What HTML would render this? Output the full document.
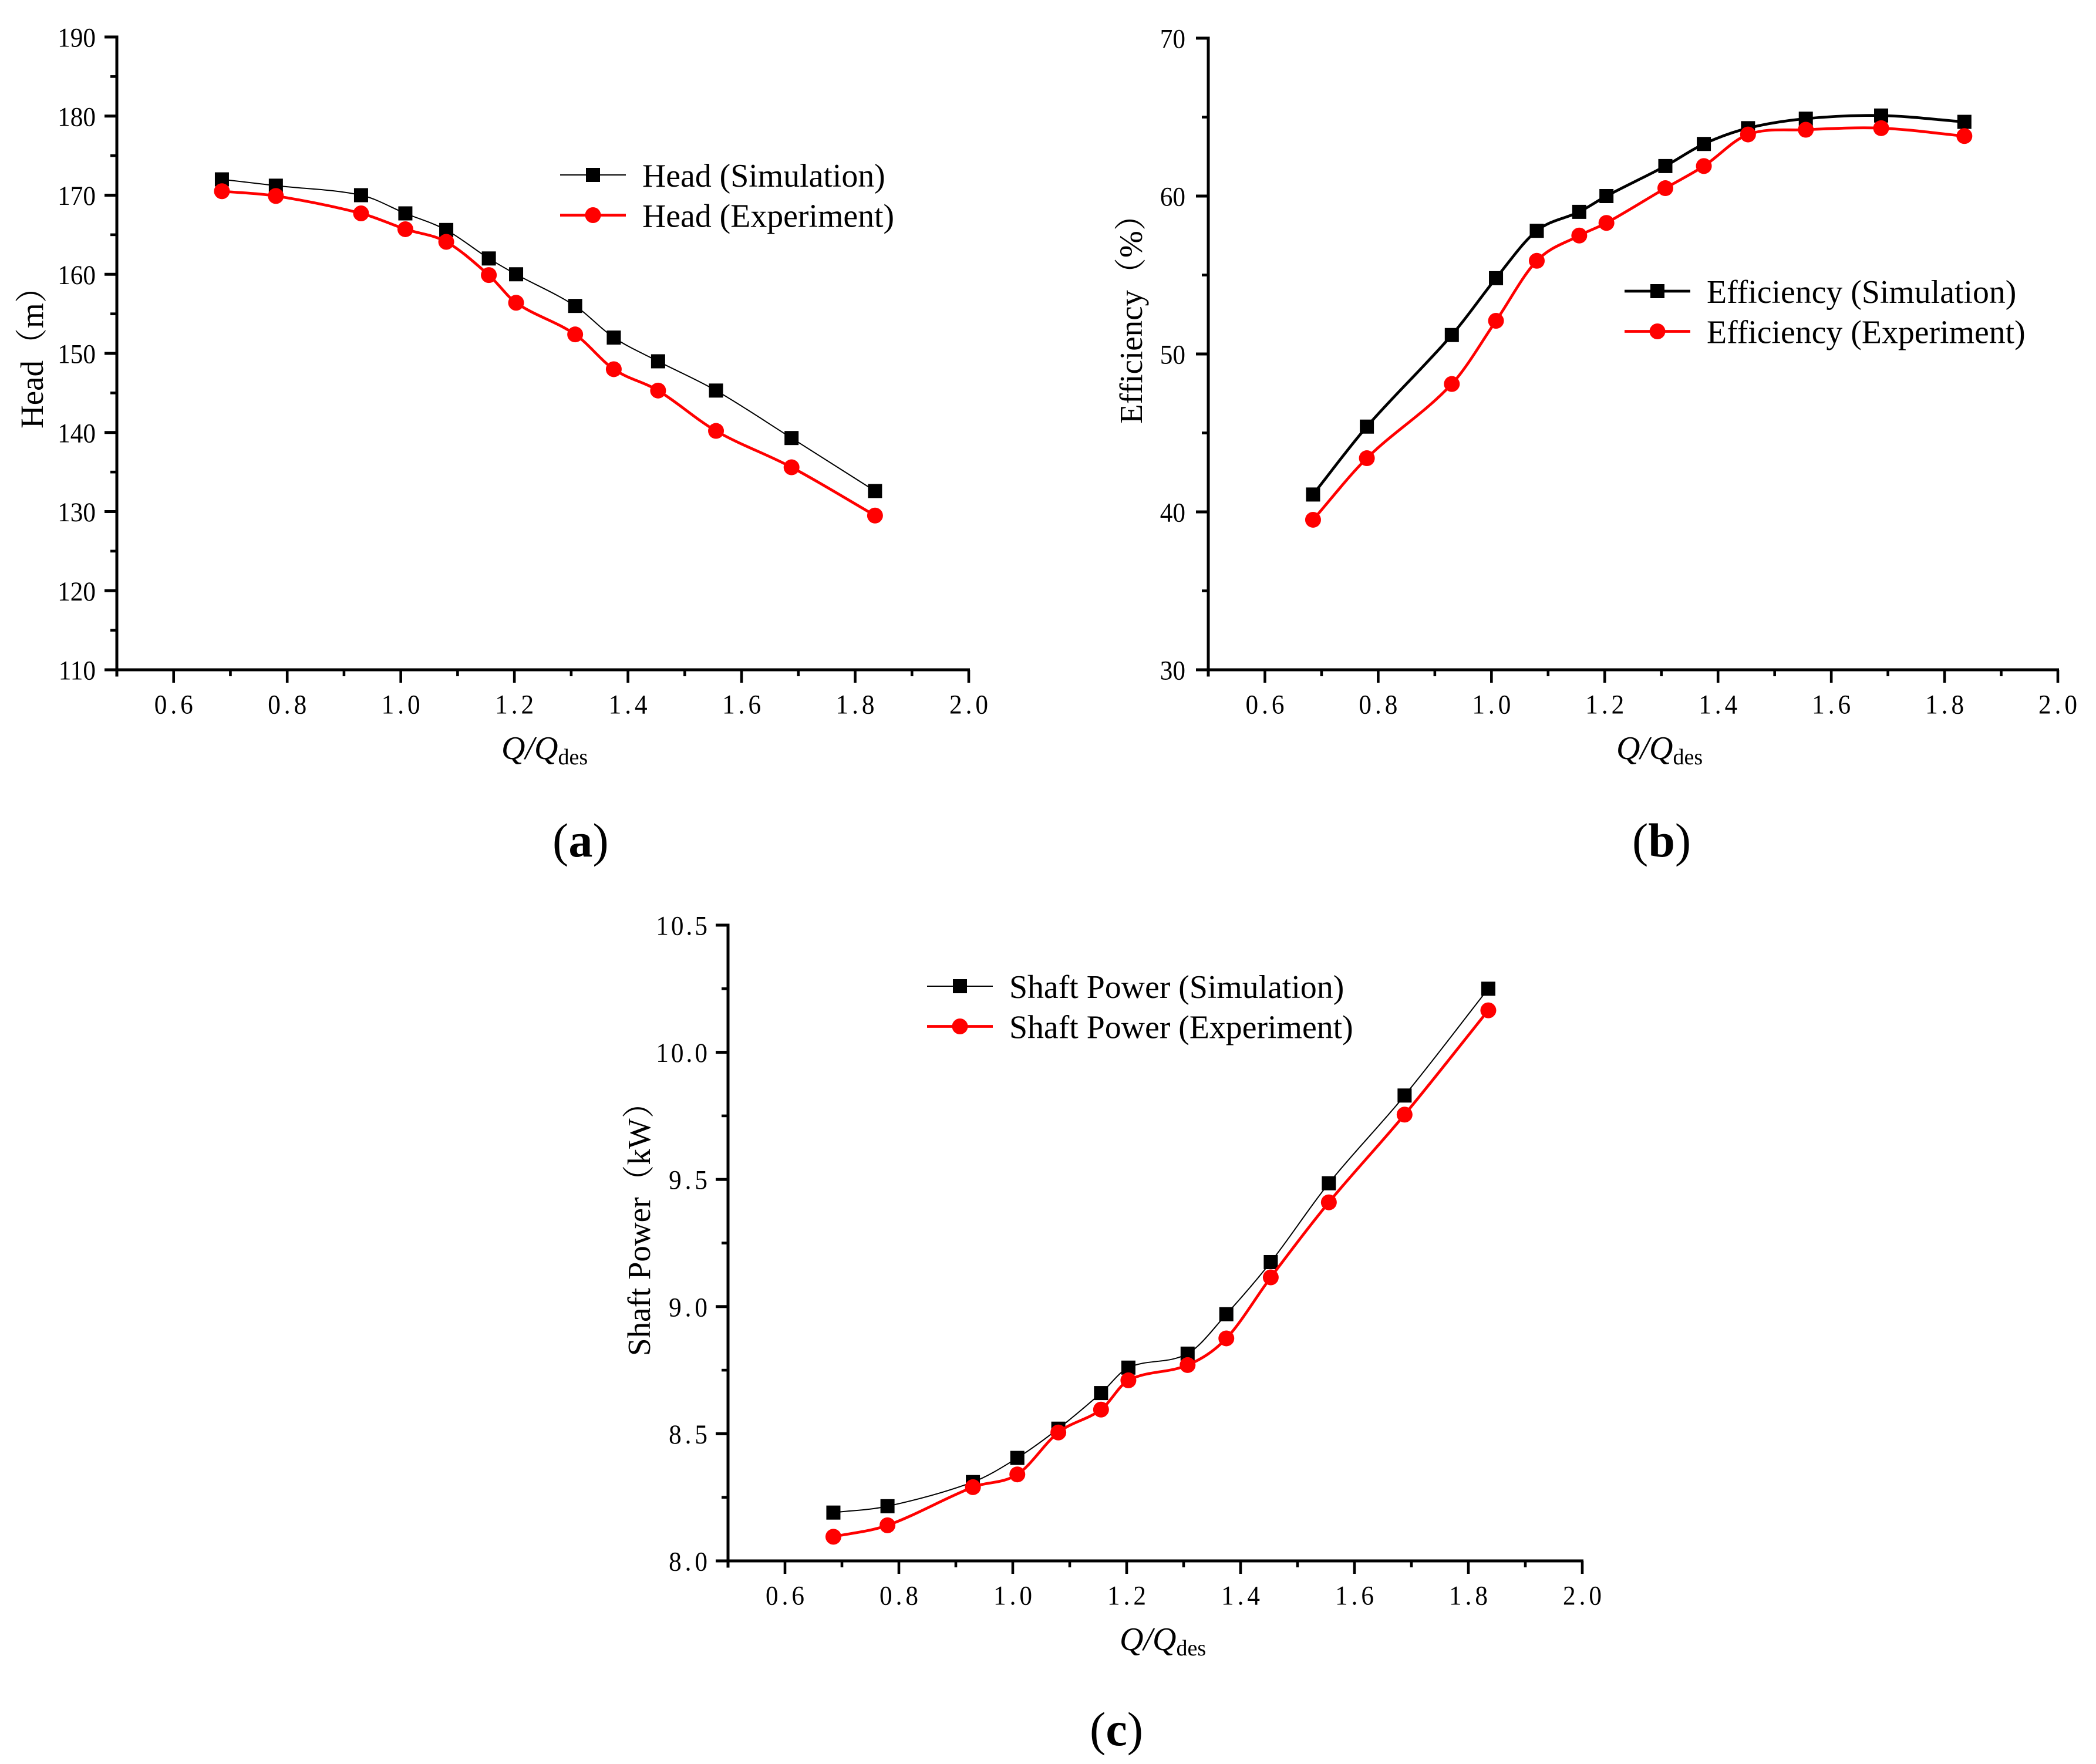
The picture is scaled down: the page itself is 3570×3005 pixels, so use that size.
<!DOCTYPE html>
<html lang="en">
<head>
<meta charset="utf-8">
<title>Pump performance curves</title>
<style>
html,body{margin:0;padding:0;background:#fff;}
svg{display:block;}
text{font-family:"Liberation Serif","Noto Serif CJK SC",serif;fill:#000;}
</style>
</head>
<body>
<svg id="chart" xmlns="http://www.w3.org/2000/svg" width="3570" height="3005" viewBox="0 0 3570 3005">
<rect width="3570" height="3005" fill="#fff"></rect>
</svg>
<script>
// Shared flow-ratio categories
const flowRatio = [0.685, 0.78, 0.93, 1.008, 1.08, 1.155, 1.203, 1.307, 1.375, 1.453, 1.555, 1.688, 1.835];
// Series values
const headSimulation = [172, 171.2, 170, 167.7, 165.6, 162, 160, 156, 152, 149, 145.3, 139.3, 132.6];
const headExperiment = [170.5, 169.9, 167.7, 165.7, 164.1, 159.9, 156.4, 152.4, 148, 145.3, 140.2, 135.6, 129.5];
const efficiencySimulation = [41.1, 45.4, 51.2, 54.8, 57.8, 59, 60, 61.9, 63.3, 64.3, 64.9, 65.1, 64.7];
const efficiencyExperiment = [39.5, 43.4, 48.1, 52.1, 55.9, 57.5, 58.3, 60.5, 61.9, 63.9, 64.2, 64.3, 63.8];
const powerSimulation = [8.19, 8.215, 8.31, 8.405, 8.52, 8.66, 8.76, 8.815, 8.97, 9.175, 9.485, 9.83, 10.25];
const powerExperiment = [8.095, 8.14, 8.29, 8.34, 8.505, 8.595, 8.71, 8.77, 8.875, 9.115, 9.41, 9.755, 10.165];
// Tick labels
const xTickLabels = ["0.6", "0.8", "1.0", "1.2", "1.4", "1.6", "1.8", "2.0"];
const xMinorTicks = [0.5, 0.7, 0.9, 1.1, 1.3, 1.5, 1.7, 1.9];
const headTickLabels = ["110", "120", "130", "140", "150", "160", "170", "180", "190"];
const headMinorTicks = [115, 125, 135, 145, 155, 165, 175, 185];
const efficiencyTickLabels = ["30", "40", "50", "60", "70"];
const efficiencyMinorTicks = [35, 45, 55, 65];
const powerTickLabels = ["8.0", "8.5", "9.0", "9.5", "10.0", "10.5"];
const powerMinorTicks = [8.25, 8.75, 9.25, 9.75, 10.25];

const NS = "http://www.w3.org/2000/svg";
const root = document.getElementById("chart");
const TICK_SCALE = 0.93;

function make(tag, attrs, parent, text) {
  const el = document.createElementNS(NS, tag);
  for (const k in attrs) el.setAttribute(k, attrs[k]);
  if (text !== undefined) el.textContent = text;
  parent.appendChild(el);
  return el;
}

// Smooth curve with non-uniform finite-difference tangents
function smoothPath(pts) {
  const n = pts.length;
  const slope = pts.map((p, i) => {
    const a = pts[Math.max(i - 1, 0)], b = pts[Math.min(i + 1, n - 1)];
    return (b[1] - a[1]) / (b[0] - a[0]);
  });
  let d = "M" + pts[0][0].toFixed(1) + " " + pts[0][1].toFixed(1);
  for (let i = 0; i < n - 1; i++) {
    const p1 = pts[i], p2 = pts[i + 1], h = (p2[0] - p1[0]) / 3;
    d += "C" + (p1[0] + h).toFixed(1) + " " + (p1[1] + slope[i] * h).toFixed(1) + " " + (p2[0] - h).toFixed(1) + " " + (p2[1] - slope[i + 1] * h).toFixed(1) + " " + p2[0].toFixed(1) + " " + p2[1].toFixed(1);
  }
  return d;
}

function square(parent, cx, cy, name) {
  const el = make("rect", {x: cx - 12, y: cy - 12, width: 24, height: 24, fill: "#000"}, parent);
  
  
}
function circle(parent, cx, cy, name) {
  const el = make("circle", {cx: cx, cy: cy, r: 13.5, fill: "#f00"}, parent);
  
  
}

function drawPanel(cfg) {
  const g = make("g", {}, root);
  
  

  const X = v => cfg.left + (v - 0.5) / 1.5 * (cfg.right - cfg.left);
  const Y = v => cfg.bottom - (v - cfg.yMin) / (cfg.yMax - cfg.yMin) * (cfg.bottom - cfg.top);

  // Axis lines
  const yAxis = make("rect", {x: cfg.left - 2.5, y: cfg.top - 2.5, width: 5, height: cfg.bottom - cfg.top + 14, fill: "#000"}, g);
  
  
  const xAxis = make("rect", {x: cfg.left - 21, y: cfg.bottom - 2.5, width: cfg.right - cfg.left + 23, height: 5, fill: "#000"}, g);
  
  

  // X ticks
  xTickLabels.forEach(label => {
    const v = parseFloat(label);
    const t = make("rect", {x: X(v) - 2.3, y: cfg.bottom, width: 4.6, height: 22, fill: "#000"}, g);
    
    
    const l = make("text", {transform: "translate(" + X(v) + " " + (cfg.bottom + cfg.xLabelDy) + ") scale(" + TICK_SCALE + " 1)", "font-size": 46.5, "text-anchor": "middle", textLength: 71, lengthAdjust: "spacing"}, g, label);
    
    
  });
  xMinorTicks.forEach(v => {
    const t = make("rect", {x: X(v) - 2.3, y: cfg.bottom, width: 4.6, height: 11, fill: "#000"}, g);
    
    
  });

  // Y ticks
  cfg.yLabels.forEach(label => {
    const v = parseFloat(label);
    const t = make("rect", {x: cfg.left - 21, y: Y(v) - 2.5, width: 21, height: 5, fill: "#000"}, g);
    
    
    const attrs = {transform: "translate(" + (cfg.left - cfg.yLabelGap) + " " + (Y(v) + 16.5) + ") scale(" + TICK_SCALE + " 1)", "font-size": 46.5, "text-anchor": "end"};
    if (label.indexOf(".") >= 0) { attrs.textLength = label.length * 23.6; attrs.lengthAdjust = "spacing"; }
    const l = make("text", attrs, g, label);
    
    
  });
  cfg.yMinor.forEach(v => {
    const t = make("rect", {x: cfg.left - 11, y: Y(v) - 2.3, width: 11, height: 4.6, fill: "#000"}, g);
    
    
  });

  // Axis titles
  const yt = make("text", {"font-size": 55, transform: "translate(" + cfg.yTitleX + " " + cfg.yTitleY + ") rotate(-90)"}, g, cfg.yTitle);
  
  

  const xt = make("text", {x: cfg.xTitleX, y: cfg.xTitleY, "font-size": 56}, g);
  
  
  make("tspan", {"font-style": "italic"}, xt, "Q/Q");
  make("tspan", {"font-size": 38, dy: 9}, xt, "des");

  // Series
  const simPts = flowRatio.map((q, i) => [X(q), Y(cfg.sim[i])]);
  const expPts = flowRatio.map((q, i) => [X(q), Y(cfg.exp[i])]);
  const simLine = make("path", {d: smoothPath(simPts), fill: "none", stroke: "#000", "stroke-width": cfg.simWidth}, g);
  
  
  simPts.forEach(p => square(g, p[0], p[1], 'simulation-point'));
  const expLine = make("path", {d: smoothPath(expPts), fill: "none", stroke: "#f00", "stroke-width": cfg.expWidth}, g);
  
  
  expPts.forEach(p => circle(g, p[0], p[1], 'experiment-point'));

  // Legend
  const lg = make("g", {}, g);
  
  
  const lx = cfg.legendX, ly = cfg.legendY;
  const s = make("line", {x1: lx, x2: lx + 112, y1: ly, y2: ly, stroke: "#000", "stroke-width": cfg.simWidth}, lg);
  
  
  square(lg, lx + 56, ly, 'legend-simulation-marker');
  const st = make("text", {x: lx + 140, y: ly + 20, "font-size": 55.8}, lg, cfg.legendName + " (Simulation)");
  
  
  const e = make("line", {x1: lx, x2: lx + 112, y1: ly + 68.5, y2: ly + 68.5, stroke: "#f00", "stroke-width": cfg.expWidth}, lg);
  
  
  circle(lg, lx + 56, ly + 68.5, 'legend-experiment-marker');
  const et = make("text", {x: lx + 140, y: ly + 88.5, "font-size": 55.8}, lg, cfg.legendName + " (Experiment)");
  
  

  // Caption
  const cap = make("text", {x: cfg.capX, y: cfg.capY, "font-size": 82}, g);
  
  
  make("tspan", {}, cap, "(");
  make("tspan", {"font-weight": "bold"}, cap, cfg.cap);
  make("tspan", {}, cap, ")");
}

drawPanel({
  id: "head", cap: "a", sim: headSimulation, exp: headExperiment,
  left: 199, right: 1650, top: 63, bottom: 1141, yMin: 110, yMax: 190,
  yLabels: headTickLabels, yMinor: headMinorTicks, yLabelGap: 36, xLabelDy: 74.5,
  yTitle: "Head（m）", yTitleX: 73, yTitleY: 730,
  xTitleX: 854, xTitleY: 1293, simWidth: 2, expWidth: 4.7,
  legendName: "Head", legendX: 954, legendY: 298, capX: 941, capY: 1459
});
drawPanel({
  id: "efficiency", cap: "b", sim: efficiencySimulation, exp: efficiencyExperiment,
  left: 2058, right: 3505, top: 65, bottom: 1141, yMin: 30, yMax: 70,
  yLabels: efficiencyTickLabels, yMinor: efficiencyMinorTicks, yLabelGap: 39, xLabelDy: 74.5,
  yTitle: "Efficiency（%）", yTitleX: 1945, yTitleY: 722,
  xTitleX: 2753, xTitleY: 1293, simWidth: 4.7, expWidth: 4.7,
  legendName: "Efficiency", legendX: 2767, legendY: 496, capX: 2780, capY: 1459
});
drawPanel({
  id: "shaft-power", cap: "c", sim: powerSimulation, exp: powerExperiment,
  left: 1240, right: 2695, top: 1576, bottom: 2659, yMin: 8, yMax: 10.5,
  yLabels: powerTickLabels, yMinor: powerMinorTicks, yLabelGap: 35, xLabelDy: 74.5,
  yTitle: "Shaft Power（kW）", yTitleX: 1107, yTitleY: 2310,
  xTitleX: 1907, xTitleY: 2811, simWidth: 2, expWidth: 4.7,
  legendName: "Shaft Power", legendX: 1579, legendY: 1680, capX: 1856, capY: 2973
});
</script>
</body>
</html>
